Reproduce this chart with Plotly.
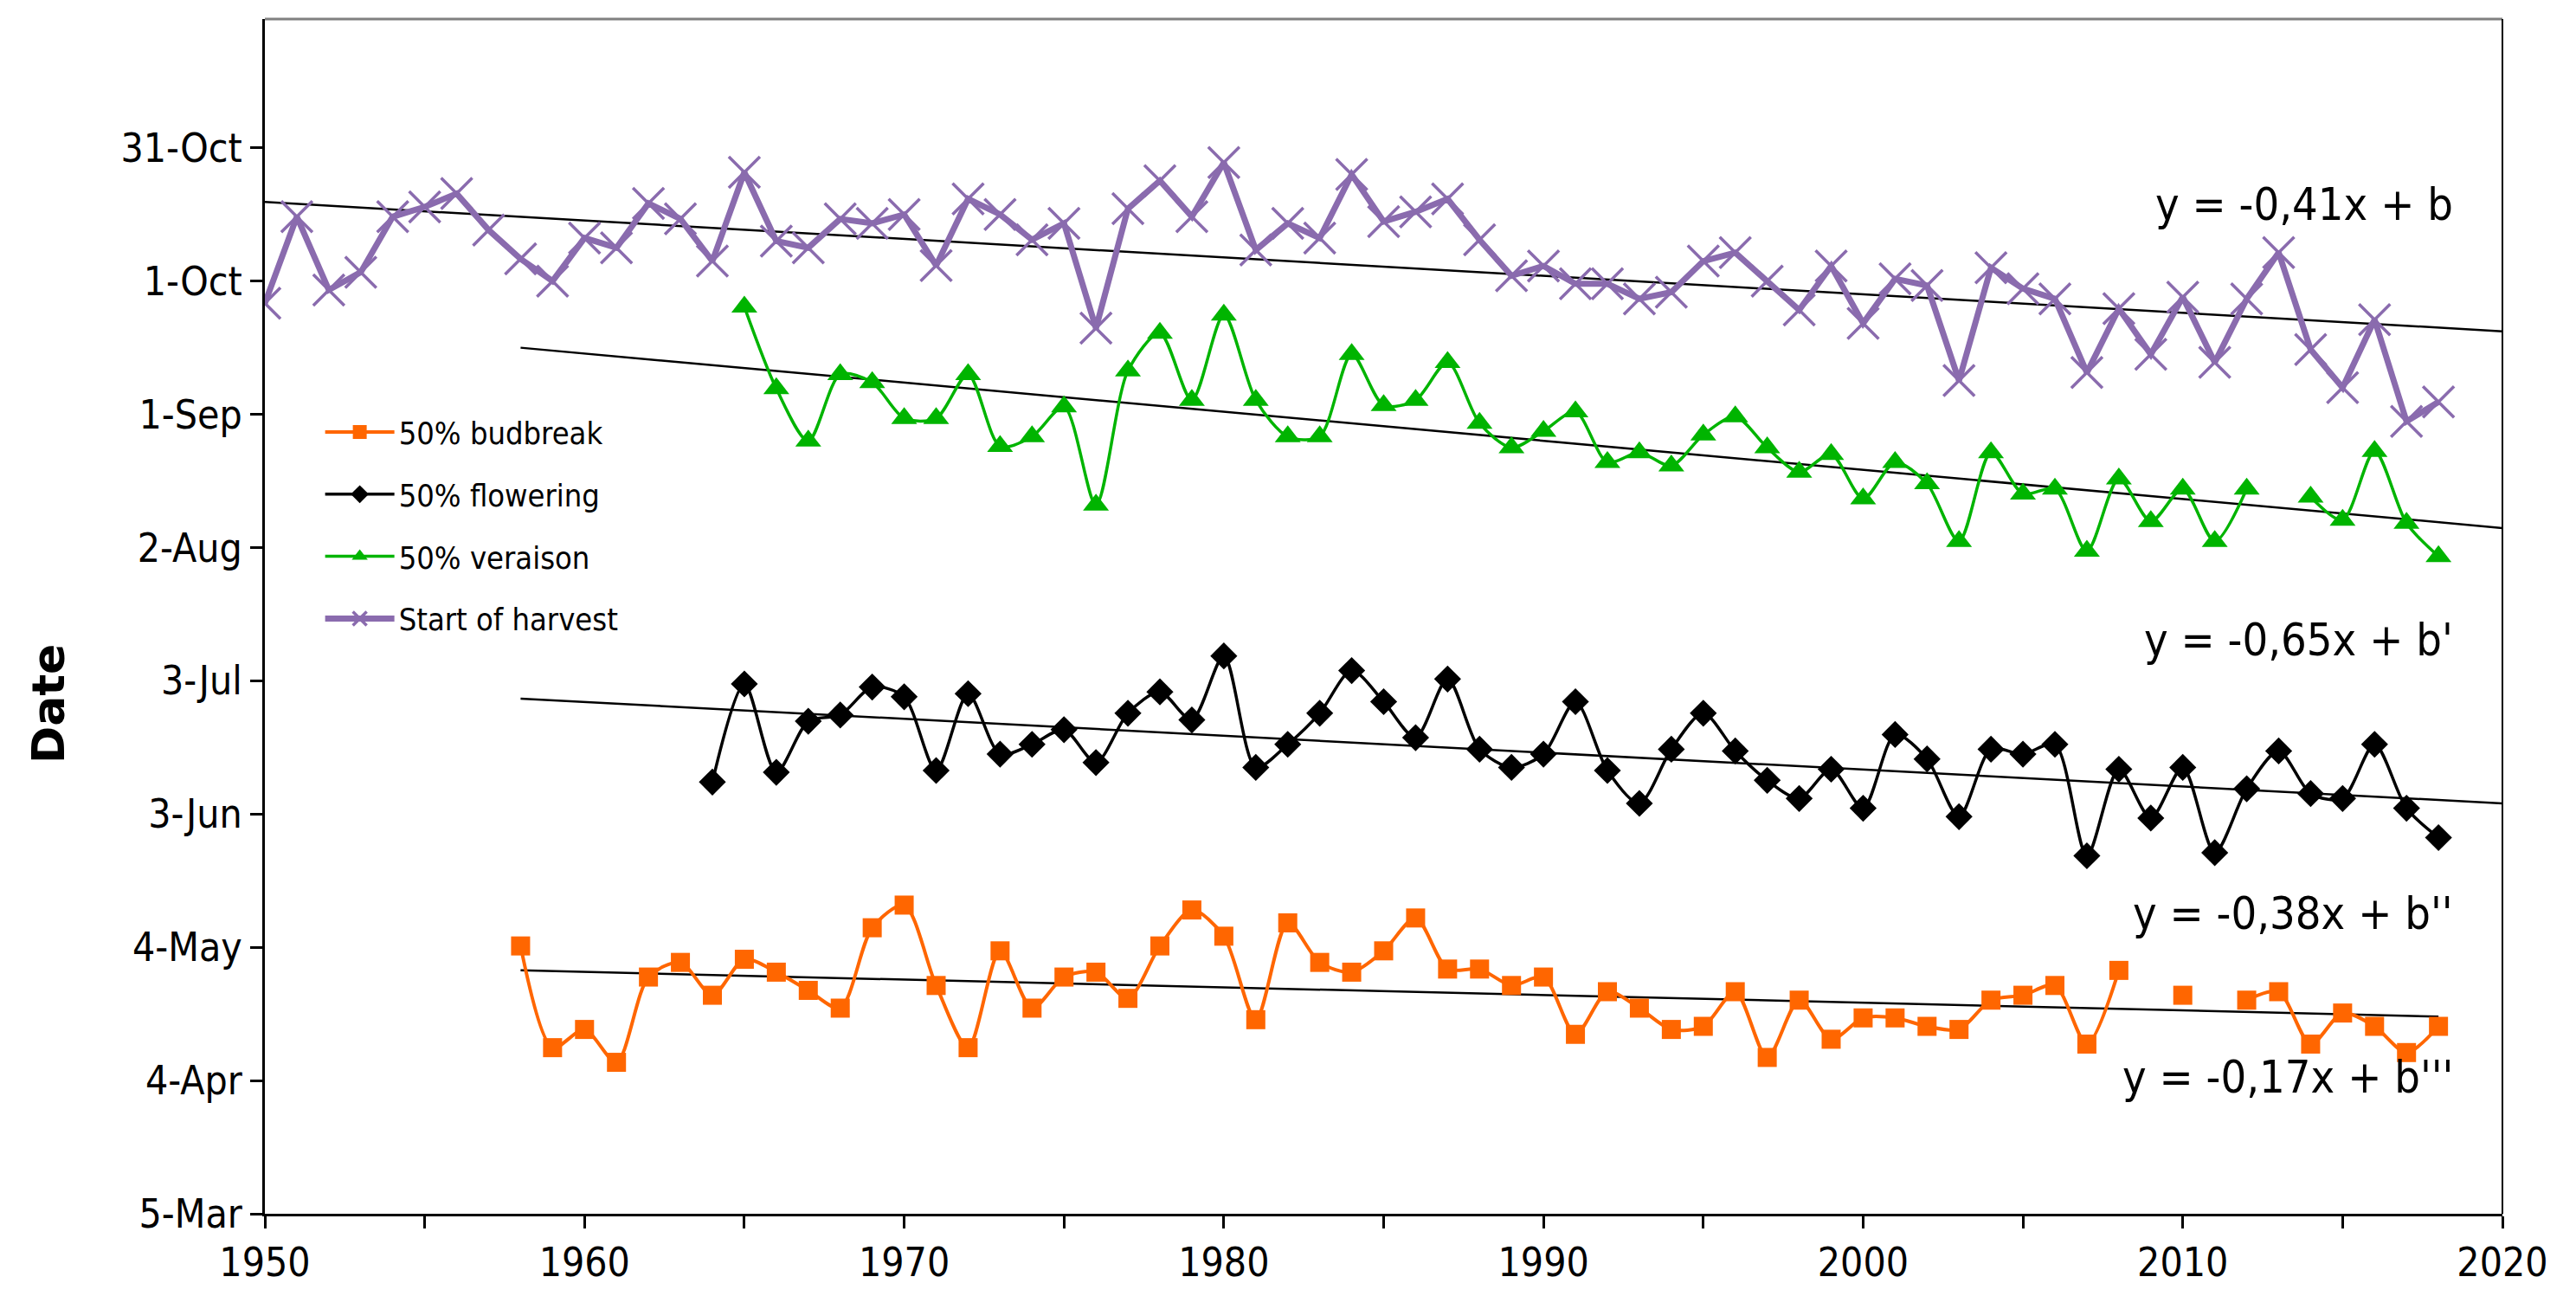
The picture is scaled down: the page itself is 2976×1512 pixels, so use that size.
import plotly.graph_objects as go

# 年份
years_budbreak = list(range(1958, 2019))
years_flowering = list(range(1964, 2019))
years_veraison = list(range(1965, 2019))
years_harvest = list(range(1950, 2019))

# day of year (None = no data)
budbreak = [124.3, 101.4, 105.5, 98.1, 117.3, 120.6, 113.2, 121.3, 118.4, 114.3,
            110.3, 128.4, 133.5, 115.4, 101.4, 123.2, 110.3, 117.3, 118.4, 112.5,
            124.3, 132.4, 126.5, 107.7, 129.5, 120.6, 118.4, 123.2, 130.6, 119.1,
            119.1, 115.4, 117.3, 104.4, 114.0, 110.3, 105.5, 106.2, 114.0, 99.2,
            112.1, 103.3, 108.1, 108.1, 106.2, 105.5, 112.1, 113.2, 115.4, 102.2,
            118.8, None, 113.2, None, 112.1, 114.0, 102.2, 109.2, 106.2, 100.3,
            106.2]

flowering = [161.2, 183.3, 163.4, 174.9, 176.3, 182.6, 180.4, 163.8, 181.1, 167.5,
             169.7, 173.0, 165.6, 176.7, 181.5, 175.2, 189.6, 164.5, 169.7, 176.7,
             186.3, 179.3, 171.2, 184.4, 168.6, 164.5, 167.5, 179.3, 163.8, 156.4,
             168.6, 176.7, 168.2, 161.6, 157.5, 164.1, 155.3, 171.9, 166.4, 153.4,
             168.6, 167.5, 169.7, 144.6, 164.1, 153.1, 164.5, 145.3, 159.7, 168.2,
             158.6, 157.5, 169.7, 155.3, 148.7]

veraison = [268.2, 249.8, 238.0, 253.0, 251.2, 243.1, 243.1, 253.0, 236.8, 239.0,
            245.7, 223.6, 253.8, 262.3, 247.2, 266.4, 247.2, 239.0, 239.0, 257.5,
            246.0, 247.2, 255.7, 242.0, 236.5, 240.2, 244.6, 233.2, 235.4, 232.4,
            239.4, 243.5, 236.5, 231.0, 235.0, 225.0, 233.2, 228.4, 215.4, 235.4,
            226.1, 227.2, 213.2, 229.5, 219.9, 227.2, 215.4, 227.2, None, 225.4,
            220.2, 235.7, 219.5, 212.0]

harvest = [269.0, 288.5, 272.0, 276.0, 288.5, 290.7, 293.7, 285.5, 279.0, 274.0,
           283.7, 281.5, 291.5, 288.0, 278.5, 298.5, 283.0, 281.5, 288.0, 287.0,
           289.0, 277.5, 292.5, 289.0, 283.3, 287.0, 263.4, 290.3, 296.6, 288.5,
           300.7, 281.0, 287.0, 283.7, 298.0, 287.4, 289.6, 292.5, 283.3, 275.2,
           277.4, 273.4, 273.4, 270.0, 271.5, 278.5, 280.4, 274.0, 267.5, 277.4,
           264.5, 274.5, 273.0, 251.6, 277.0, 272.3, 270.0, 253.4, 267.8, 257.5,
           270.4, 255.7, 270.0, 280.4, 258.6, 250.0, 265.3, 242.4, 246.8]

# 趨勢線端點
trend_harvest_x = [1950, 2020]
trend_harvest_y = [291.8, 262.7]
trend_veraison_x = [1958, 2020]
trend_veraison_y = [259.0, 218.4]
trend_flowering_x = [1958, 2020]
trend_flowering_y = [180.0, 156.4]
trend_budbreak_x = [1958, 2018]
trend_budbreak_y = [118.8, 108.4]

eq_texts = ["y = -0,41x + b", "y = -0,65x + b'", "y = -0,38x + b''", "y = -0,17x + b'''"]
eq_y = [291.2, 193.3, 131.7, 94.8]

ytick_vals = [64, 94, 124, 154, 184, 214, 244, 274, 304]
ytick_text = ['5-Mar', '4-Apr', '4-May', '3-Jun', '3-Jul', '2-Aug', '1-Sep', '1-Oct', '31-Oct']

FONT = "DejaVu Sans Condensed, DejaVu Sans"
ORANGE = '#FF6600'
GREEN = '#00B400'
PURPLE = '#8A6BAE'

fig = go.Figure()

# 趨勢線
for tx, ty in [(trend_harvest_x, trend_harvest_y), (trend_veraison_x, trend_veraison_y),
               (trend_flowering_x, trend_flowering_y), (trend_budbreak_x, trend_budbreak_y)]:
    fig.add_trace(go.Scatter(x=tx, y=ty, mode='lines', showlegend=False,
                             line=dict(color='black', width=2.5), hoverinfo='skip'))

fig.add_trace(go.Scatter(x=years_budbreak, y=budbreak, mode='lines+markers', name='50% budbreak',
                         legendgroup='a', connectgaps=False,
                         line=dict(color=ORANGE, width=4, shape='spline', smoothing=0.8),
                         marker=dict(symbol='square', size=22, color=ORANGE)))
fig.add_trace(go.Scatter(x=years_flowering, y=flowering, mode='lines+markers', name='50% flowering',
                         legendgroup='b',
                         line=dict(color='black', width=3.5, shape='spline', smoothing=0.8),
                         marker=dict(symbol='diamond', size=24, color='black')))
fig.add_trace(go.Scatter(x=years_veraison, y=veraison, mode='lines+markers', name='50% veraison',
                         legendgroup='c', connectgaps=False,
                         line=dict(color=GREEN, width=3.5, shape='spline', smoothing=0.8),
                         marker=dict(symbol='triangle-up', size=26, color=GREEN)))
fig.add_trace(go.Scatter(x=years_harvest, y=harvest, mode='lines+markers', name='Start of harvest',
                         legendgroup='d',
                         line=dict(color=PURPLE, width=7),
                         marker=dict(symbol='x-thin', size=36, color=PURPLE,
                                     line=dict(color=PURPLE, width=3.5))))

for t, yy in zip(eq_texts, eq_y):
    fig.add_annotation(x=2018.5, y=yy, text=t, showarrow=False, xanchor='right', yanchor='middle',
                       font=dict(family=FONT, size=52, color='black'))

fig.add_annotation(xref='paper', yref='paper', x=-0.097, y=0.427, text='<b>Date</b>', textangle=-90,
                   xanchor='center', yanchor='middle',
                   showarrow=False, font=dict(family="DejaVu Sans", size=52, color='black'))

# 外框
fig.add_shape(type='line', xref='paper', yref='paper', x0=0, x1=1, y0=1, y1=1,
              line=dict(color='#808080', width=3))
fig.add_shape(type='line', xref='paper', yref='paper', x0=1, x1=1, y0=0, y1=1,
              line=dict(color='black', width=2))

fig.update_layout(
    width=2976, height=1512,
    margin=dict(l=298, r=93, t=14, b=118),
    paper_bgcolor='white', plot_bgcolor='white',
    font=dict(family=FONT, color='black'),
    legend=dict(x=0.025, y=0.676, xanchor='left', yanchor='top', bgcolor='rgba(0,0,0,0)',
                font=dict(family=FONT, size=36, color='black'), tracegroupgap=22,
                itemwidth=80, traceorder='grouped'),
    xaxis=dict(range=[1950, 2020], dtick=10, ticks='outside', ticklen=14, tickwidth=3,
               tickcolor='black', showline=True, linecolor='black', linewidth=3,
               showgrid=False, zeroline=False, tickfont=dict(family=FONT, size=46),
               minor=dict(dtick=5, ticks='outside', ticklen=14, tickwidth=3, tickcolor='black')),
    yaxis=dict(range=[64, 333], tickvals=ytick_vals, ticktext=ytick_text, ticks='outside',
               ticklen=14, tickwidth=3, tickcolor='black', showline=True, linecolor='black',
               linewidth=3, showgrid=False, zeroline=False, tickfont=dict(family=FONT, size=46)),
)

fig.write_html("out.html")
